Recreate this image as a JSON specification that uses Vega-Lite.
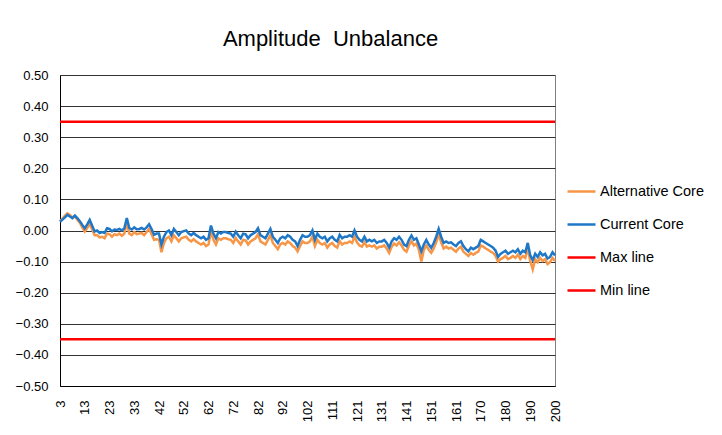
{
  "$schema": "https://vega.github.io/schema/vega-lite/v6.json",
  "width": 495,
  "height": 311,
  "autosize": "none",
  "padding": {"left": 60, "top": 75, "right": 167, "bottom": 49},
  "background": "white",
  "title": {"text": "Amplitude\u00a0 Unbalance", "font": "Liberation Sans", "fontSize": 22, "fontWeight": "normal", "color": "#000", "offset": 18, "dx": 23},
  "config": {
    "view": {"stroke": "#7f7f7f", "strokeWidth": 1},
    "axis": {"domainColor": "#000", "gridColor": "#333", "gridWidth": 1, "ticks": false, "labelColor": "#000"}
  },
  "datasets": {
    "series": [
{"i":0,"Alternative Core":0.03,"Current Core":0.028},
{"i":1,"Alternative Core":0.038,"Current Core":0.035},
{"i":2,"Alternative Core":0.048,"Current Core":0.042},
{"i":3,"Alternative Core":0.055,"Current Core":0.05},
{"i":4,"Alternative Core":0.05,"Current Core":0.045},
{"i":5,"Alternative Core":0.042,"Current Core":0.04},
{"i":6,"Alternative Core":0.045,"Current Core":0.048},
{"i":7,"Alternative Core":0.035,"Current Core":0.04},
{"i":8,"Alternative Core":0.025,"Current Core":0.03},
{"i":9,"Alternative Core":0.01,"Current Core":0.018},
{"i":10,"Alternative Core":-0.003,"Current Core":0.007},
{"i":11,"Alternative Core":0.008,"Current Core":0.02},
{"i":12,"Alternative Core":0.022,"Current Core":0.034},
{"i":13,"Alternative Core":0.003,"Current Core":0.015},
{"i":14,"Alternative Core":-0.015,"Current Core":-0.003},
{"i":15,"Alternative Core":-0.015,"Current Core":0.0},
{"i":16,"Alternative Core":-0.022,"Current Core":-0.008},
{"i":17,"Alternative Core":-0.02,"Current Core":-0.005},
{"i":18,"Alternative Core":-0.025,"Current Core":-0.008},
{"i":19,"Alternative Core":-0.01,"Current Core":0.007},
{"i":20,"Alternative Core":-0.012,"Current Core":0.005},
{"i":21,"Alternative Core":-0.02,"Current Core":-0.003},
{"i":22,"Alternative Core":-0.012,"Current Core":0.003},
{"i":23,"Alternative Core":-0.015,"Current Core":0.002},
{"i":24,"Alternative Core":-0.01,"Current Core":0.005},
{"i":25,"Alternative Core":-0.017,"Current Core":0.0},
{"i":26,"Alternative Core":-0.01,"Current Core":0.007},
{"i":27,"Alternative Core":0.025,"Current Core":0.04},
{"i":28,"Alternative Core":-0.01,"Current Core":0.008},
{"i":29,"Alternative Core":-0.015,"Current Core":0.003},
{"i":30,"Alternative Core":-0.005,"Current Core":0.01},
{"i":31,"Alternative Core":-0.012,"Current Core":0.004},
{"i":32,"Alternative Core":-0.01,"Current Core":0.005},
{"i":33,"Alternative Core":-0.008,"Current Core":0.008},
{"i":34,"Alternative Core":-0.015,"Current Core":0.003},
{"i":35,"Alternative Core":-0.005,"Current Core":0.01},
{"i":36,"Alternative Core":0.005,"Current Core":0.02},
{"i":37,"Alternative Core":-0.012,"Current Core":0.005},
{"i":38,"Alternative Core":-0.03,"Current Core":-0.014},
{"i":39,"Alternative Core":-0.028,"Current Core":-0.01},
{"i":40,"Alternative Core":-0.03,"Current Core":-0.01},
{"i":41,"Alternative Core":-0.07,"Current Core":-0.045},
{"i":42,"Alternative Core":-0.04,"Current Core":-0.02},
{"i":43,"Alternative Core":-0.025,"Current Core":-0.005},
{"i":44,"Alternative Core":-0.02,"Current Core":0.0},
{"i":45,"Alternative Core":-0.035,"Current Core":-0.015},
{"i":46,"Alternative Core":-0.015,"Current Core":0.005},
{"i":47,"Alternative Core":-0.025,"Current Core":-0.005},
{"i":48,"Alternative Core":-0.035,"Current Core":-0.015},
{"i":49,"Alternative Core":-0.025,"Current Core":-0.005},
{"i":50,"Alternative Core":-0.022,"Current Core":-0.002},
{"i":51,"Alternative Core":-0.02,"Current Core":0.0},
{"i":52,"Alternative Core":-0.03,"Current Core":-0.01},
{"i":53,"Alternative Core":-0.035,"Current Core":-0.015},
{"i":54,"Alternative Core":-0.028,"Current Core":-0.008},
{"i":55,"Alternative Core":-0.035,"Current Core":-0.015},
{"i":56,"Alternative Core":-0.04,"Current Core":-0.02},
{"i":57,"Alternative Core":-0.045,"Current Core":-0.025},
{"i":58,"Alternative Core":-0.04,"Current Core":-0.02},
{"i":59,"Alternative Core":-0.05,"Current Core":-0.03},
{"i":60,"Alternative Core":-0.045,"Current Core":-0.025},
{"i":61,"Alternative Core":-0.003,"Current Core":0.016},
{"i":62,"Alternative Core":-0.03,"Current Core":-0.01},
{"i":63,"Alternative Core":-0.045,"Current Core":-0.025},
{"i":64,"Alternative Core":-0.025,"Current Core":-0.005},
{"i":65,"Alternative Core":-0.03,"Current Core":-0.01},
{"i":66,"Alternative Core":-0.025,"Current Core":-0.005},
{"i":67,"Alternative Core":-0.025,"Current Core":-0.005},
{"i":68,"Alternative Core":-0.028,"Current Core":-0.008},
{"i":69,"Alternative Core":-0.03,"Current Core":-0.01},
{"i":70,"Alternative Core":-0.04,"Current Core":-0.02},
{"i":71,"Alternative Core":-0.024,"Current Core":-0.004},
{"i":72,"Alternative Core":-0.035,"Current Core":-0.015},
{"i":73,"Alternative Core":-0.045,"Current Core":-0.025},
{"i":74,"Alternative Core":-0.03,"Current Core":-0.01},
{"i":75,"Alternative Core":-0.032,"Current Core":-0.012},
{"i":76,"Alternative Core":-0.045,"Current Core":-0.025},
{"i":77,"Alternative Core":-0.035,"Current Core":-0.015},
{"i":78,"Alternative Core":-0.03,"Current Core":-0.01},
{"i":79,"Alternative Core":-0.025,"Current Core":-0.005},
{"i":80,"Alternative Core":-0.012,"Current Core":0.007},
{"i":81,"Alternative Core":-0.035,"Current Core":-0.015},
{"i":82,"Alternative Core":-0.04,"Current Core":-0.02},
{"i":83,"Alternative Core":-0.045,"Current Core":-0.025},
{"i":84,"Alternative Core":-0.03,"Current Core":-0.01},
{"i":85,"Alternative Core":-0.015,"Current Core":0.005},
{"i":86,"Alternative Core":-0.04,"Current Core":-0.02},
{"i":87,"Alternative Core":-0.05,"Current Core":-0.03},
{"i":88,"Alternative Core":-0.06,"Current Core":-0.04},
{"i":89,"Alternative Core":-0.045,"Current Core":-0.025},
{"i":90,"Alternative Core":-0.04,"Current Core":-0.02},
{"i":91,"Alternative Core":-0.045,"Current Core":-0.025},
{"i":92,"Alternative Core":-0.035,"Current Core":-0.015},
{"i":93,"Alternative Core":-0.04,"Current Core":-0.02},
{"i":94,"Alternative Core":-0.05,"Current Core":-0.03},
{"i":95,"Alternative Core":-0.055,"Current Core":-0.035},
{"i":96,"Alternative Core":-0.067,"Current Core":-0.05},
{"i":97,"Alternative Core":-0.05,"Current Core":-0.03},
{"i":98,"Alternative Core":-0.035,"Current Core":-0.015},
{"i":99,"Alternative Core":-0.04,"Current Core":-0.02},
{"i":100,"Alternative Core":-0.04,"Current Core":-0.02},
{"i":101,"Alternative Core":-0.035,"Current Core":-0.015},
{"i":102,"Alternative Core":-0.02,"Current Core":0.0},
{"i":103,"Alternative Core":-0.05,"Current Core":-0.03},
{"i":104,"Alternative Core":-0.03,"Current Core":-0.01},
{"i":105,"Alternative Core":-0.04,"Current Core":-0.02},
{"i":106,"Alternative Core":-0.045,"Current Core":-0.025},
{"i":107,"Alternative Core":-0.04,"Current Core":-0.02},
{"i":108,"Alternative Core":-0.055,"Current Core":-0.035},
{"i":109,"Alternative Core":-0.045,"Current Core":-0.025},
{"i":110,"Alternative Core":-0.04,"Current Core":-0.02},
{"i":111,"Alternative Core":-0.05,"Current Core":-0.03},
{"i":112,"Alternative Core":-0.055,"Current Core":-0.035},
{"i":113,"Alternative Core":-0.034,"Current Core":-0.014},
{"i":114,"Alternative Core":-0.045,"Current Core":-0.025},
{"i":115,"Alternative Core":-0.04,"Current Core":-0.02},
{"i":116,"Alternative Core":-0.04,"Current Core":-0.02},
{"i":117,"Alternative Core":-0.035,"Current Core":-0.015},
{"i":118,"Alternative Core":-0.04,"Current Core":-0.02},
{"i":119,"Alternative Core":-0.02,"Current Core":0.0},
{"i":120,"Alternative Core":-0.038,"Current Core":-0.02},
{"i":121,"Alternative Core":-0.048,"Current Core":-0.03},
{"i":122,"Alternative Core":-0.052,"Current Core":-0.035},
{"i":123,"Alternative Core":-0.038,"Current Core":-0.02},
{"i":124,"Alternative Core":-0.052,"Current Core":-0.035},
{"i":125,"Alternative Core":-0.048,"Current Core":-0.03},
{"i":126,"Alternative Core":-0.052,"Current Core":-0.035},
{"i":127,"Alternative Core":-0.048,"Current Core":-0.03},
{"i":128,"Alternative Core":-0.058,"Current Core":-0.04},
{"i":129,"Alternative Core":-0.052,"Current Core":-0.035},
{"i":130,"Alternative Core":-0.052,"Current Core":-0.035},
{"i":131,"Alternative Core":-0.048,"Current Core":-0.03},
{"i":132,"Alternative Core":-0.058,"Current Core":-0.04},
{"i":133,"Alternative Core":-0.072,"Current Core":-0.055},
{"i":134,"Alternative Core":-0.052,"Current Core":-0.035},
{"i":135,"Alternative Core":-0.042,"Current Core":-0.025},
{"i":136,"Alternative Core":-0.048,"Current Core":-0.03},
{"i":137,"Alternative Core":-0.038,"Current Core":-0.02},
{"i":138,"Alternative Core":-0.048,"Current Core":-0.03},
{"i":139,"Alternative Core":-0.062,"Current Core":-0.045},
{"i":140,"Alternative Core":-0.068,"Current Core":-0.05},
{"i":141,"Alternative Core":-0.048,"Current Core":-0.03},
{"i":142,"Alternative Core":-0.034,"Current Core":-0.016},
{"i":143,"Alternative Core":-0.048,"Current Core":-0.03},
{"i":144,"Alternative Core":-0.042,"Current Core":-0.025},
{"i":145,"Alternative Core":-0.062,"Current Core":-0.045},
{"i":146,"Alternative Core":-0.1,"Current Core":-0.067},
{"i":147,"Alternative Core":-0.062,"Current Core":-0.045},
{"i":148,"Alternative Core":-0.048,"Current Core":-0.03},
{"i":149,"Alternative Core":-0.062,"Current Core":-0.045},
{"i":150,"Alternative Core":-0.072,"Current Core":-0.056},
{"i":151,"Alternative Core":-0.058,"Current Core":-0.04},
{"i":152,"Alternative Core":-0.038,"Current Core":-0.02},
{"i":153,"Alternative Core":-0.012,"Current Core":0.005},
{"i":154,"Alternative Core":-0.038,"Current Core":-0.02},
{"i":155,"Alternative Core":-0.058,"Current Core":-0.04},
{"i":156,"Alternative Core":-0.052,"Current Core":-0.035},
{"i":157,"Alternative Core":-0.058,"Current Core":-0.04},
{"i":158,"Alternative Core":-0.055,"Current Core":-0.038},
{"i":159,"Alternative Core":-0.062,"Current Core":-0.045},
{"i":160,"Alternative Core":-0.068,"Current Core":-0.05},
{"i":161,"Alternative Core":-0.058,"Current Core":-0.04},
{"i":162,"Alternative Core":-0.052,"Current Core":-0.035},
{"i":163,"Alternative Core":-0.068,"Current Core":-0.05},
{"i":164,"Alternative Core":-0.075,"Current Core":-0.06},
{"i":165,"Alternative Core":-0.082,"Current Core":-0.067},
{"i":166,"Alternative Core":-0.072,"Current Core":-0.055},
{"i":167,"Alternative Core":-0.078,"Current Core":-0.06},
{"i":168,"Alternative Core":-0.072,"Current Core":-0.055},
{"i":169,"Alternative Core":-0.068,"Current Core":-0.05},
{"i":170,"Alternative Core":-0.048,"Current Core":-0.03},
{"i":171,"Alternative Core":-0.052,"Current Core":-0.035},
{"i":172,"Alternative Core":-0.058,"Current Core":-0.04},
{"i":173,"Alternative Core":-0.062,"Current Core":-0.045},
{"i":174,"Alternative Core":-0.068,"Current Core":-0.05},
{"i":175,"Alternative Core":-0.072,"Current Core":-0.055},
{"i":176,"Alternative Core":-0.082,"Current Core":-0.065},
{"i":177,"Alternative Core":-0.1,"Current Core":-0.085},
{"i":178,"Alternative Core":-0.092,"Current Core":-0.075},
{"i":179,"Alternative Core":-0.088,"Current Core":-0.07},
{"i":180,"Alternative Core":-0.082,"Current Core":-0.065},
{"i":181,"Alternative Core":-0.092,"Current Core":-0.075},
{"i":182,"Alternative Core":-0.088,"Current Core":-0.07},
{"i":183,"Alternative Core":-0.082,"Current Core":-0.065},
{"i":184,"Alternative Core":-0.088,"Current Core":-0.07},
{"i":185,"Alternative Core":-0.078,"Current Core":-0.06},
{"i":186,"Alternative Core":-0.092,"Current Core":-0.075},
{"i":187,"Alternative Core":-0.082,"Current Core":-0.065},
{"i":188,"Alternative Core":-0.088,"Current Core":-0.07},
{"i":189,"Alternative Core":-0.058,"Current Core":-0.04},
{"i":190,"Alternative Core":-0.098,"Current Core":-0.08},
{"i":191,"Alternative Core":-0.125,"Current Core":-0.095},
{"i":192,"Alternative Core":-0.092,"Current Core":-0.075},
{"i":193,"Alternative Core":-0.102,"Current Core":-0.085},
{"i":194,"Alternative Core":-0.088,"Current Core":-0.07},
{"i":195,"Alternative Core":-0.098,"Current Core":-0.08},
{"i":196,"Alternative Core":-0.092,"Current Core":-0.075},
{"i":197,"Alternative Core":-0.108,"Current Core":-0.09},
{"i":198,"Alternative Core":-0.102,"Current Core":-0.085},
{"i":199,"Alternative Core":-0.088,"Current Core":-0.07},
{"i":200,"Alternative Core":-0.098,"Current Core":-0.08}
    ],
    "limits": [
      {"i": 0, "series": "Max line", "v": 0.35},
      {"i": 200, "series": "Max line", "v": 0.35},
      {"i": 0, "series": "Min line", "v": -0.35},
      {"i": 200, "series": "Min line", "v": -0.35}
    ]
  },
  "encoding": {
    "x": {
      "field": "i", "type": "quantitative",
      "scale": {"domain": [0, 200], "nice": false, "zero": false},
      "axis": {
        "title": null, "grid": false, "values": [0,10,20,30,40,50,60,70,80,90,100,110,120,130,140,150,160,170,180,190,200],
        "labelAngle": -90, "labelFont": "Liberation Sans", "labelFontSize": 13, "labelPadding": 14,
        "labelExpr": "['3','13','23','33','42','52','62','72','82','92','102','111','121','131','141','151','161','170','180','190','200'][round(datum.value/10)]",
        "labelOverlap": false, "labelFlush": false, "labelBound": false
      }
    },
    "y": {
      "field": "v", "type": "quantitative",
      "scale": {"domain": [-0.5, 0.5], "nice": false},
      "axis": {
        "title": null, "values": [-0.5,-0.4,-0.3,-0.2,-0.1,0,0.1,0.2,0.3,0.4,0.5], "format": ".2f",
        "labelFont": "Liberation Sans", "labelFontSize": 13, "labelPadding": 12, "labelFlush": false
      }
    },
    "color": {
      "field": "series", "type": "nominal",
      "scale": {"domain": ["Alternative Core", "Current Core", "Max line", "Min line"], "range": ["#F79646", "#1F77C8", "#FF0000", "#FF0000"]},
      "legend": {
        "title": null, "orient": "none", "legendX": 506, "legendY": 101,
        "symbolType": "stroke", "symbolSize": 784, "symbolStrokeWidth": 2.5,
        "labelFont": "Liberation Sans", "labelFontSize": 14.5, "labelColor": "#000",
        "labelOffset": 3, "rowPadding": 11, "padding": 0
      }
    }
  },
  "layer": [
    {
      "data": {"name": "series"},
      "transform": [{"fold": ["Alternative Core"], "as": ["series", "v"]}],
      "mark": {"type": "line", "strokeWidth": 2.5, "interpolate": "linear"}
    },
    {
      "data": {"name": "series"},
      "transform": [{"fold": ["Current Core"], "as": ["series", "v"]}],
      "mark": {"type": "line", "strokeWidth": 2.5, "interpolate": "linear"}
    },
    {
      "data": {"name": "limits"},
      "mark": {"type": "line", "strokeWidth": 2.5}
    }
  ]
}
